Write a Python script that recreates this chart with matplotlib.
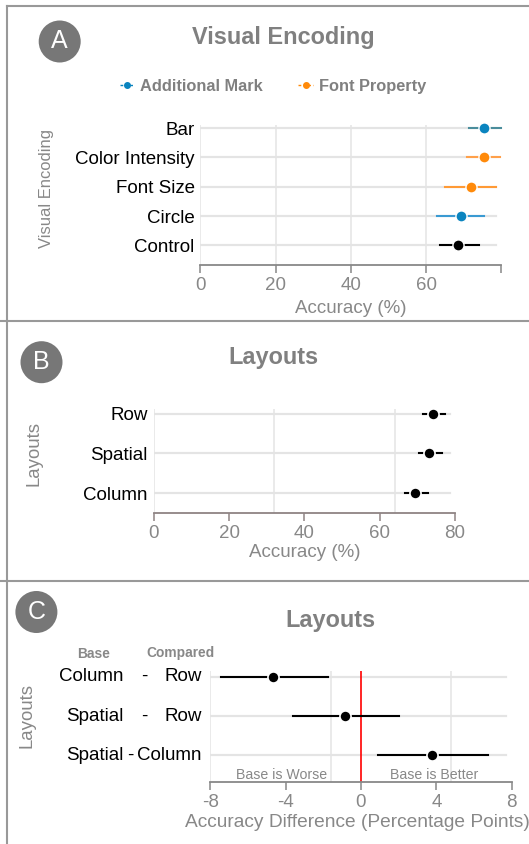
import numpy as np
import matplotlib
matplotlib.use('Agg')
import matplotlib.pyplot as plt
from matplotlib.lines import Line2D
from matplotlib.patches import Ellipse
import matplotlib.transforms as mtransforms

plt.rcParams['font.family'] = ['Liberation Sans', 'DejaVu Sans']

# Panel A: visual encodings
enc_labels = ['Bar', 'Color Intensity', 'Font Size', 'Circle', 'Control']
enc_mean = [75.3, 75.3, 72.0, 69.4, 68.6]
enc_lo = [71.3, 70.8, 64.9, 62.9, 63.6]
enc_hi = [79.8, 79.6, 78.7, 75.4, 74.2]
enc_group = ['Additional Mark', 'Font Property', 'Font Property', 'Additional Mark', 'Control']

# Panel B: layouts
lay_labels = ['Row', 'Spatial', 'Column']
lay_mean = [74.1, 73.2, 69.4]
lay_lo = [71.4, 70.3, 66.7]
lay_hi = [77.2, 76.6, 72.8]

# Panel C: pairwise differences
diff_base = ['Column', 'Spatial', 'Spatial']
diff_comp = ['Row', 'Row', 'Column']
diff_mean = [-4.66, -0.84, 3.76]
diff_lo = [-7.45, -3.6, 0.91]
diff_hi = [-1.77, 2.02, 6.76]

W, H = 529, 844
fig = plt.figure(figsize=(W / 100, H / 100), dpi=100)

GRAY = '#808080'
LGRAY = '#888888'
GRID = '#e4e4e4'
FS = 13.5
mark_col = {'Additional Mark': '#0a84bf', 'Font Property': '#ff8a0a', 'Control': '#000000'}
err_col = ['#4a8d9c', '#ffa04a', '#ff9a35', '#3a9ad2', '#000000']


def add_ax(l, t, r, b):
    return fig.add_axes([l / W, 1 - b / H, (r - l) / W, (b - t) / H])


def fx(x):
    return x / W


def fy(y):
    return 1 - y / H


def style_ax(ax, xlo, xhi, nrows, top_off, bot_off, vgrid, ticks, ticklabels, spine_col=LGRAY):
    ax.set_xlim(xlo, xhi)
    ax.set_ylim(nrows - 1 + bot_off, -top_off)
    for s in ['top', 'right', 'left']:
        ax.spines[s].set_visible(False)
    ax.spines['bottom'].set_color(spine_col)
    ax.spines['bottom'].set_linewidth(1.3)
    for v in vgrid:
        ax.axvline(v, color=GRID, lw=1.1, zorder=0)
    for i in range(nrows):
        ax.plot([xlo, xlo + 0.982 * (xhi - xlo)], [i, i], color=GRID, lw=1.6, zorder=0)
    ax.set_xticks(ticks)
    ax.set_xticklabels(ticklabels)
    ax.tick_params(axis='x', length=6, width=1.1, color=spine_col, pad=2.5,
                   labelsize=FS, labelcolor=LGRAY)
    ax.tick_params(axis='y', length=0, pad=4.2, labelsize=FS, labelcolor='black')
    ax.patch.set_alpha(0)


def badge(cx, cy, letter):
    r = 21
    fig.patches.append(Ellipse((fx(cx), fy(cy)), 2 * r / W, 2 * r / H,
                               transform=fig.transFigure, facecolor='#777777', edgecolor='none'))
    fig.text(fx(cx), fy(cy), letter, color='white', fontsize=18, ha='center', va='center')


# frame lines
for seg in [((7.4, W), (6.1, 6.1)), ((7.4, 7.4), (6.1, H)), ((0, W), (320.5, 320.5)), ((0, W), (580.5, 580.5))]:
    fig.add_artist(Line2D([fx(seg[0][0]), fx(seg[0][1])], [fy(seg[1][0]), fy(seg[1][1])],
                          transform=fig.transFigure, color='#999999', lw=1.5))

# ---------------- Panel A ----------------
axA = add_ax(200.4, 124.8, 501.3, 265.2)
style_ax(axA, 0, 80, 5, 0.116, 0.68, [0, 20, 40, 60], [0, 20, 40, 60, 80], ['0', '20', '40', '60', ''])
yA = np.arange(len(enc_labels))
axA.set_yticks(yA)
axA.set_yticklabels(enc_labels)
for i in range(len(enc_labels)):
    axA.plot([enc_lo[i], enc_hi[i]], [yA[i], yA[i]], color=err_col[i], lw=1.5, zorder=2, clip_on=False)
    axA.plot(enc_mean[i], yA[i], 'o', color=mark_col[enc_group[i]], ms=8, mec='white', mew=1.0,
             zorder=3, clip_on=False)
axA.set_xlabel('Accuracy (%)', fontsize=FS, color=LGRAY, va='center')
axA.xaxis.set_label_coords(0.5, -(308.7 - 265.2) / (265.2 - 124.8))
fig.text(fx(46.6), fy(189), 'Visual Encoding', rotation=90, fontsize=11.9, color=LGRAY,
         ha='center', va='center')
fig.text(fx(283), fy(37.8), 'Visual Encoding', fontsize=16.9, fontweight='bold', color=GRAY,
         ha='center', va='center')
badge(59.7, 41.5, 'A')

handles = [Line2D([], [], color=mark_col[g], ls='--', lw=1.0, marker='o', ms=4, dashes=(2, 1.5))
           for g in ['Additional Mark', 'Font Property']]
leg = fig.legend(handles, ['Additional Mark', 'Font Property'], loc='center',
                 bbox_to_anchor=(fx(272.8), fy(86.7)), ncol=2, frameon=False,
                 handlelength=0.9, handletextpad=0.35, columnspacing=2.15,
                 prop={'size': 11.8, 'weight': 'bold'})
for t in leg.get_texts():
    t.set_color(GRAY)

# ---------------- Panel B ----------------
axB = add_ax(153.8, 409.4, 455.1, 513.0)
style_ax(axB, 0, 80, 3, 0.11, 0.5, [0 + k * 0.4 * 80 for k in range(3)],
         [0, 20, 40, 60, 80], ['0', '20', '40', '60', '80'], spine_col='#8f8484')
yB = np.arange(len(lay_labels))
axB.set_yticks(yB)
axB.set_yticklabels(lay_labels)
axB.tick_params(axis='y', pad=4.6)
for i in range(len(lay_labels)):
    axB.plot([lay_lo[i], lay_hi[i]], [yB[i], yB[i]], color='black', lw=1.5, zorder=2)
    axB.plot(lay_mean[i], yB[i], 'o', color='black', ms=8, mec='white', mew=1.2, zorder=3)
axB.set_xlabel('Accuracy (%)', fontsize=FS, color=LGRAY, va='center')
axB.xaxis.set_label_coords(0.5, -(552.8 - 513.0) / (513.0 - 409.4))
fig.text(fx(33.7), fy(453.3), 'Layouts', rotation=90, fontsize=13.4, color=LGRAY,
         ha='center', va='center')
fig.text(fx(273.3), fy(357.1), 'Layouts', fontsize=16.9, fontweight='bold', color=GRAY,
         ha='center', va='center')
badge(41.5, 362.2, 'B')

# ---------------- Panel C ----------------
axC = add_ax(210.2, 671.1, 511.8, 781.8)
style_ax(axC, -8, 8, 3, 0.145, 0.67, [-8 + k * 0.4 * 16 for k in range(3)],
         [-8, -4, 0, 4, 8], ['-8', '-4', '0', '4', '8'])
yC = np.arange(len(diff_mean))
axC.set_yticks(yC)
axC.set_yticklabels([])
axC.axvline(0, color='#ff0000', lw=1.2, zorder=1)
for i in range(len(diff_mean)):
    axC.plot([diff_lo[i], diff_hi[i]], [yC[i], yC[i]], color='black', lw=1.5, zorder=2)
    axC.plot(diff_mean[i], yC[i], 'o', color='black', ms=8, mec='white', mew=1.2, zorder=3)
axC.set_xlabel('Accuracy Difference (Percentage Points)', fontsize=13.8, color=LGRAY, va='center')
axC.xaxis.set_label_coords(0.5 - 4 / 301.6, -(822.9 - 781.8) / (781.8 - 671.1))
axC.text(-4.2, 2.5, 'Base is Worse', fontsize=10.2, color=LGRAY, ha='center', va='center')
axC.text(3.9, 2.5, 'Base is Better', fontsize=10.2, color=LGRAY, ha='center', va='center')

trC = mtransforms.blended_transform_factory(fig.transFigure, axC.transData)
renderer = fig.canvas.get_renderer()
for i in range(len(diff_mean)):
    axC.text(fx(123.8), yC[i], diff_base[i], transform=trC, fontsize=FS, ha='right', va='center')
    tc = axC.text(fx(202), yC[i], diff_comp[i], transform=trC, fontsize=FS, ha='right', va='center')
    bb = tc.get_window_extent(renderer)
    dash_x = (123.8 + bb.x0) / 2
    axC.text(fx(dash_x), yC[i], '-', transform=trC, fontsize=FS, ha='center', va='center')
fig.text(fx(93.1), fy(653.5), 'Base', fontsize=9.9, fontweight='bold', color=LGRAY, ha='center', va='center')
fig.text(fx(180.5), fy(653.5), 'Compared', fontsize=9.9, fontweight='bold', color=LGRAY,
         ha='center', va='center')
fig.text(fx(27), fy(715), 'Layouts', rotation=90, fontsize=13.4, color=LGRAY, ha='center', va='center')
fig.text(fx(330.6), fy(620.5), 'Layouts', fontsize=16.9, fontweight='bold', color=GRAY,
         ha='center', va='center')
badge(36.4, 612, 'C')

fig.savefig('out.png', dpi=100)
